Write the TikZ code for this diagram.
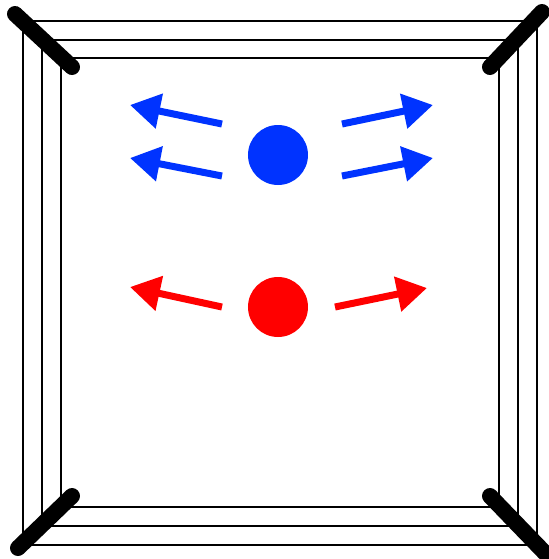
\documentclass[tikz,border=0pt]{standalone}
\usetikzlibrary{arrows.meta}
\definecolor{ringblue}{RGB}{0,51,255}
\definecolor{ringred}{RGB}{255,0,0}
\tikzset{
  rope/.style={draw=black,line width=1.4pt},
  post/.style={black,line width=8pt,line cap=round},
  dot/.style={circle,fill=#1,minimum size=30pt,inner sep=0pt},
  push/.style={#1,line width=3.5pt,-{Triangle[length=15pt,width=17pt]}}
}

\begin{document}
\begin{tikzpicture}[x=0.5pt,y=-0.5pt]
        \useasboundingbox (0,0) rectangle (549,559);
        % ropes
        \foreach \a/\b/\c/\d in {61/58/499/507,42/40/518/526,23/21/537/545}
          \draw[rope] (\a,\b) rectangle (\c,\d);
        % corner posts
        \coordinate (tl1) at (15,14);   \coordinate (tl2) at (72,67);
        \coordinate (tr1) at (490,67);  \coordinate (tr2) at (542,12);
        \coordinate (bl1) at (72,496);  \coordinate (bl2) at (18,548);
        \coordinate (br1) at (490,496); \coordinate (br2) at (545,553);
        \foreach \p in {tl,tr,bl,br}
          \draw[post] (\p1) -- (\p2);
        % charges
        \node[dot=ringblue] (blue) at (278,155) {};
        \node[dot=ringred] (red) at (278,307) {};
        % blue pushes
        \foreach \y/\t in {124/105,176/158}{
          \coordinate (bl) at (222,\y); \coordinate (blt) at (130,\t);
          \coordinate (br) at (342,\y); \coordinate (brt) at (433,\t);
          \draw[push=ringblue] (bl) -- (blt);
          \draw[push=ringblue] (br) -- (brt);
        }
        % red pushes
        \coordinate (rl) at (222,307); \coordinate (rlt) at (130,287);
        \coordinate (rr) at (335,307); \coordinate (rrt) at (427,288);
        \draw[push=ringred] (rl) -- (rlt);
        \draw[push=ringred] (rr) -- (rrt);
      \end{tikzpicture}
\end{document}
